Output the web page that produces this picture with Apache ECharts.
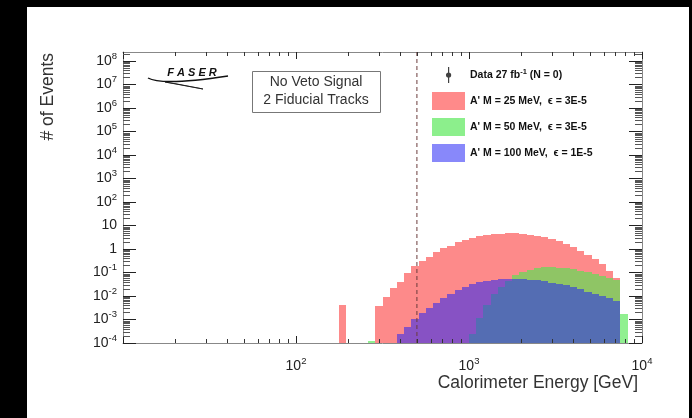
<!DOCTYPE html>
<html>
<head>
<meta charset="utf-8">
<script src="https://cdn.jsdelivr.net/npm/echarts@6/dist/echarts.min.js"></script>
<style>
  html, body { margin: 0; padding: 0; background: #000; width: 692px; height: 418px; overflow: hidden; }
  #chart { position: absolute; left: 27px; top: 7px; width: 662px; height: 411px; background: #fff; }
</style>
</head>
<body>
<div id="chart"></div>
<script>
// Bin edges in GeV (24 log-uniform bins per decade), first edge = bin 54
const binEdgesGeV = [
  177.83, 195.73, 215.44, 237.14, 261.02, 287.30, 316.23, 348.07, 383.12, 421.70,
  464.16, 510.90, 562.34, 618.97, 681.29, 749.89, 825.40, 908.52, 1000.0, 1100.7,
  1211.5, 1333.5, 1467.8, 1615.6, 1778.3, 1957.3, 2154.4, 2371.4, 2610.2, 2873.0,
  3162.3, 3480.7, 3831.2, 4217.0, 4641.6, 5109.0, 5623.4, 6189.7, 6812.9, 7498.9,
  8254.0
];

// Expected events per bin (0 = empty bin)
const signal25MeV = [
  0.0042, 0, 0, 0, 0, 0.0037, 0.0095, 0.021, 0.041, 0.093,
  0.18, 0.30, 0.46, 0.71, 1.05, 1.4, 1.9, 2.4, 2.9, 3.4,
  3.8, 4.2, 4.5, 4.7, 4.7, 4.5, 4.1, 3.6, 3.1, 2.6,
  2.1, 1.6, 1.2, 0.85, 0.57, 0.37, 0.22, 0.12, 0.06, 0
];
const signal50MeV = [
  0, 0, 0, 0, 0.00012, 0, 0, 0, 0, 0,
  0, 0, 0, 0, 0, 0, 0, 0, 0.00025, 0.0012,
  0.004, 0.012, 0.025, 0.045, 0.075, 0.10, 0.13, 0.15, 0.165, 0.167,
  0.16, 0.15, 0.135, 0.12, 0.10, 0.085, 0.07, 0.06, 0.05, 0.0017
];
const signal100MeV = [
  0, 0, 0, 0, 0, 0, 0, 0, 0.00025, 0.0005,
  0.001, 0.0018, 0.0032, 0.0052, 0.0083, 0.0126, 0.018, 0.025, 0.032, 0.039,
  0.045, 0.049, 0.051, 0.052, 0.052, 0.051, 0.049, 0.046, 0.042, 0.037,
  0.032, 0.028, 0.023, 0.019, 0.0155, 0.0126, 0.010, 0.0079, 0.0063, 0
];
const observedData = [];          // N = 0
const energyCutGeV = 500;

const seriesNames = [
  'Data 27 fb-1 (N = 0)',
  "A' M = 25 MeV,  \u03F5 = 3E-5",
  "A' M = 50 MeV,  \u03F5 = 3E-5",
  "A' M = 100 MeV,  \u03F5 = 1E-5"
];

// Major ticks (one per decade) and minor-tick multipliers
const xMajorTicks = [10, 100, 1000, 10000];
const yMajorTicks = [1e-4, 1e-3, 1e-2, 1e-1, 1, 10, 100, 1e3, 1e4, 1e5, 1e6, 1e7, 1e8];
const minorMultipliers = [2, 3, 4, 5, 6, 7, 8, 9];

const X_MIN = 10, X_MAX = 10000;
const Y_MIN = 1e-4, Y_MAX = 2.4e8;

const FONT = "'Liberation Sans', Arial, Helvetica, sans-serif";

function toBins(values) {
  const out = [];
  values.forEach((v, i) => { if (v > 0) out.push([binEdgesGeV[i], binEdgesGeV[i + 1], v]); });
  return out;
}

function histSeries(name, values, fill, z) {
  return {
    name, type: 'custom', z, silent: true,
    data: toBins(values),
    encode: { x: [0, 1], y: 2 },
    itemStyle: { color: fill },
    renderItem(params, api) {
      const cs = params.coordSys;
      const lo = api.coord([api.value(0), Math.max(api.value(2), Y_MIN)]);
      const hi = api.coord([api.value(1), Math.max(api.value(2), Y_MIN)]);
      const bottom = cs.y + cs.height;
      const x0 = Math.round(lo[0]), x1 = Math.round(hi[0]);
      const top = Math.min(Math.round(lo[1]), bottom);
      return { type: 'rect', shape: { x: x0, y: top, width: x1 - x0, height: bottom - top },
               style: { fill } };
    }
  };
}

function powLabel(v) {
  const l = Math.log10(v), e = Math.round(l);
  if (Math.abs(l - e) > 1e-6) return '';
  if (e === 0) return '1';
  if (e === 1) return '10';
  return '10{sup|' + e + '}';
}

const labelRich = {
  sup: { fontSize: 9.5, lineHeight: 10, padding: [0, 0, 10, 0], color: '#222', fontFamily: FONT }
};

function xAxisCfg(position, labels) {
  return {
    type: 'log', logBase: 10, min: X_MIN, max: X_MAX, position,
    axisLine: { show: true, lineStyle: { color: '#888', width: 1 } },
    axisTick: { show: true, inside: true, length: 7, customValues: xMajorTicks, lineStyle: { color: '#222', width: 1 } },
    minorTick: { show: false },
    splitLine: { show: false },
    axisLabel: labels ? {
      show: true, margin: 16, fontSize: 14, color: '#222', fontFamily: FONT,
      customValues: xMajorTicks.slice(1),
      formatter: powLabel, rich: labelRich, hideOverlap: false
    } : { show: false }
  };
}

function yAxisCfg(position, labels) {
  return {
    type: 'log', logBase: 10, min: Y_MIN, max: Y_MAX, position,
    axisLine: { show: true, lineStyle: { color: '#888', width: 1 } },
    axisTick: { show: true, inside: true, length: 13, customValues: yMajorTicks, lineStyle: { color: '#222', width: 1 } },
    minorTick: { show: false },
    splitLine: { show: false },
    axisLabel: labels ? {
      show: true, margin: 6, fontSize: 14, color: '#222', fontFamily: FONT,
      customValues: yMajorTicks,
      formatter: powLabel, rich: labelRich, hideOverlap: false
    } : { show: false }
  };
}

// Minor tick positions for the log axes
const xMinorTicks = [];
xMajorTicks.slice(0, -1).forEach(d => minorMultipliers.forEach(m => xMinorTicks.push(d * m)));
const yMinorTicks = [];
yMajorTicks.forEach(d => minorMultipliers.forEach(m => { if (d * m < Y_MAX) yMinorTicks.push(d * m); }));

const minorTickSeries = [
  {
    type: 'custom', silent: true, z: 6,
    data: xMinorTicks.map(v => [v, 1]),
    renderItem(params, api) {
      const cs = params.coordSys;
      const x = Math.round(api.coord([api.value(0), 1])[0]) + 0.5;
      const b = cs.y + cs.height;
      return { type: 'group', children: [
        { type: 'line', shape: { x1: x, y1: b, x2: x, y2: b - 4 }, style: { stroke: '#333', lineWidth: 1 } },
        { type: 'line', shape: { x1: x, y1: cs.y, x2: x, y2: cs.y + 4 }, style: { stroke: '#333', lineWidth: 1 } }
      ] };
    }
  },
  {
    type: 'custom', silent: true, z: 6,
    data: yMinorTicks.map(v => [100, v]),
    renderItem(params, api) {
      const cs = params.coordSys;
      const y = Math.round(api.coord([100, api.value(1)])[1]) + 0.5;
      const r = cs.x + cs.width;
      return { type: 'group', children: [
        { type: 'line', shape: { x1: cs.x, y1: y, x2: cs.x + 7, y2: y }, style: { stroke: '#555', lineWidth: 1 } },
        { type: 'line', shape: { x1: r, y1: y, x2: r - 7, y2: y }, style: { stroke: '#555', lineWidth: 1 } }
      ] };
    }
  }
];

const chart = echarts.init(document.getElementById('chart'), null, { renderer: 'canvas' });

const option = {
  animation: false,
  backgroundColor: '#fff',
  textStyle: { fontFamily: FONT },
  grid: { left: 96, top: 45, right: 47, bottom: 75, show: false },
  xAxis: [xAxisCfg('bottom', true), xAxisCfg('top', false)],
  yAxis: [yAxisCfg('left', true), yAxisCfg('right', false)],
  legend: {
    orient: 'vertical', left: 405, top: 59, padding: 0,
    itemWidth: 33, itemHeight: 18, itemGap: 8,
    selectedMode: false,
    textStyle: { fontSize: 10.5, fontWeight: 'bold', color: '#111', fontFamily: FONT,
      rich: { sup: { fontSize: 7.5, fontWeight: 'bold', lineHeight: 7, padding: [0, 0, 6, 0], color: '#111', fontFamily: FONT } } },
    formatter: name => name.replace('fb-1', 'fb{sup|-1}'),
    data: [
      { name: seriesNames[0], icon: 'path://M0,0 M33,18 M16,1 L17.2,1 L17.2,17 L16,17 Z M16.6,6.4 A2.6,2.6 0 1 1 16.59,6.4 Z', itemStyle: { color: '#111' } },
      { name: seriesNames[1], icon: 'rect', itemStyle: { color: '#ff8a8a' } },
      { name: seriesNames[2], icon: 'rect', itemStyle: { color: '#8cef8c' } },
      { name: seriesNames[3], icon: 'rect', itemStyle: { color: '#8888fa' } }
    ]
  },
  graphic: [
    // axis titles
    { type: 'text', x: 611, y: 376, style: { text: 'Calorimeter Energy [GeV]', font: '17.5px ' + FONT, fill: '#333', align: 'right', verticalAlign: 'middle' } },
    { type: 'text', x: 21, y: 46, rotation: Math.PI / 2, style: { text: '# of Events', font: '17.5px ' + FONT, fill: '#333', align: 'right', verticalAlign: 'middle' } },
    // selection box
    { type: 'rect', shape: { x: 225.5, y: 64.5, width: 128, height: 41 }, style: { fill: '#fff', stroke: '#777', lineWidth: 1 }, z: 20 },
    { type: 'text', x: 289, y: 75, z: 21, style: { text: 'No Veto Signal', font: '14px ' + FONT, fill: '#333', align: 'center', verticalAlign: 'middle' } },
    { type: 'text', x: 289, y: 93, z: 21, style: { text: '2 Fiducial Tracks', font: '14px ' + FONT, fill: '#333', align: 'center', verticalAlign: 'middle' } },
    // experiment logo
    { type: 'text', x: 165, y: 66, z: 21, style: { text: 'F A S E R', font: 'italic bold 11px ' + FONT, fill: '#111', align: 'center', verticalAlign: 'middle' } },
    { type: 'bezierCurve', z: 21, shape: { x1: 121, y1: 71, cpx1: 135, cpy1: 79, x2: 201, y2: 69 }, style: { fill: 'none', stroke: '#111', lineWidth: 1.4 } },
    { type: 'polygon', z: 21, shape: { points: [[138, 75], [176, 82], [150, 77]] }, style: { fill: '#111', stroke: '#111', lineWidth: 0.8 } }
  ],
  series: [
    { name: seriesNames[0], type: 'scatter', data: observedData, symbolSize: 5, itemStyle: { color: '#111' } },
    histSeries(seriesNames[1], signal25MeV, 'rgb(253,138,138)', 2),
    histSeries(seriesNames[2], signal50MeV, 'rgba(79,232,79,0.63)', 3),
    histSeries(seriesNames[3], signal100MeV, 'rgba(35,35,246,0.54)', 4),
    {
      type: 'line', silent: true, z: 5, symbol: 'none',
      data: [[energyCutGeV, Y_MIN], [energyCutGeV, Y_MAX]],
      lineStyle: { color: '#6b3b3b', width: 1, type: [4, 3] }
    }
  ].concat(minorTickSeries)
};

chart.setOption(option);
</script>
</body>
</html>
